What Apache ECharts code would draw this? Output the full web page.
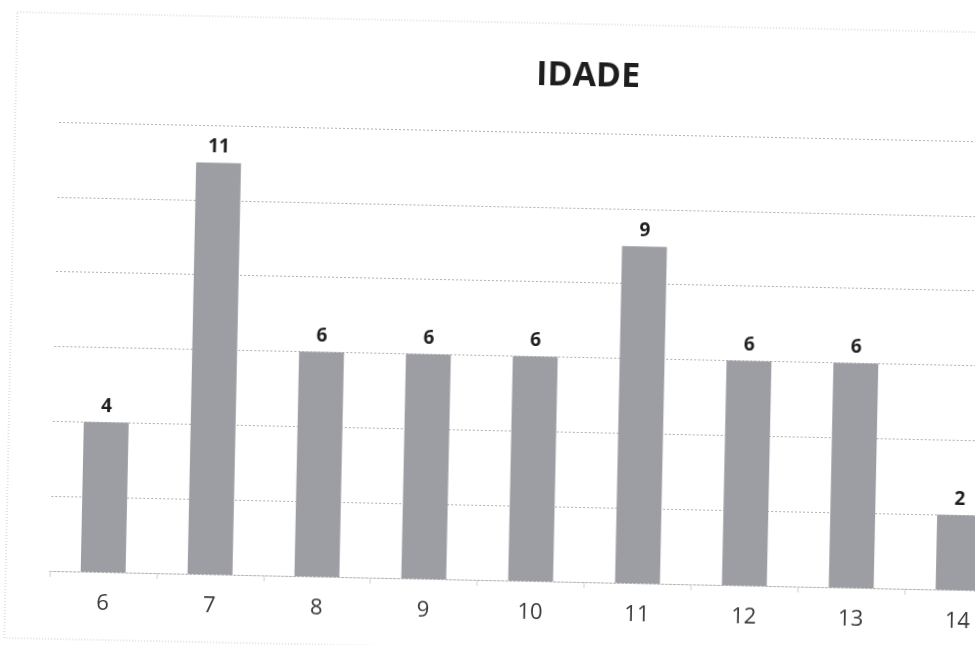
<!DOCTYPE html>
<html>
<head>
<meta charset="utf-8">
<script src="https://cdn.jsdelivr.net/npm/echarts@6/dist/echarts.min.js"></script>
<style>
  html, body { margin: 0; padding: 0; background: #ffffff; overflow: hidden; width: 975px; height: 645px; }
  #chart { position: absolute; left: -20px; top: -20px; width: 1015px; height: 685px; transform: rotate(1.2deg); transform-origin: 50% 50%; }
</style>
</head>
<body>
<div id="chart"></div>
<script>
const chartTitle = 'IDADE';
const categories = ['6', '7', '8', '9', '10', '11', '12', '13', '14'];
const counts = [4, 11, 6, 6, 6, 9, 6, 6, 2];
const yTicks = [0, 2, 4, 6, 8, 10, 12];

const chart = echarts.init(document.getElementById('chart'), null, { renderer: 'canvas' });
chart.setOption({
  backgroundColor: 'transparent',
  animation: false,
  graphic: [
    {
      type: 'rect',
      shape: { x: 31, y: 42, width: 1100, height: 626 },
      style: { fill: 'none', stroke: '#c4c4c4', lineWidth: 1, lineDash: [1, 2] },
      silent: true, z: -10
    },
    {
      type: 'text',
      x: 603, y: 94,
      style: {
        text: chartTitle, align: 'center', verticalAlign: 'middle',
        font: 'bold 34px "Open Sans", sans-serif', fill: '#1e1e1e'
      }
    }
  ],
  grid: { left: 75, width: 962, top: 151, bottom: 85, containLabel: false, outerBoundsMode: 'none' },
  xAxis: {
    type: 'category',
    data: categories,
    axisLine: { show: true, lineStyle: { color: '#a8a8a8', width: 1, type: [2, 2] } },
    axisTick: { show: true, length: 6, interval: 0, lineStyle: { color: '#d0d0d0' } },
    axisLabel: { margin: 21, fontSize: 22, fontFamily: '"Open Sans", sans-serif', color: '#3a3a3a', interval: 0 },
    splitLine: { show: false }
  },
  yAxis: {
    type: 'value',
    min: yTicks[0], max: yTicks[yTicks.length - 1], interval: yTicks[1] - yTicks[0],
    axisLine: { show: false },
    axisTick: { show: false },
    axisLabel: { show: false },
    splitLine: { show: true, lineStyle: { color: '#b0b0b0', width: 1, type: [2, 2] } }
  },
  series: [{
    type: 'bar',
    data: counts,
    barWidth: '42%',
    itemStyle: { color: '#9d9da4' },
    label: {
      show: true, position: 'top', distance: 6,
      fontSize: 19, fontWeight: 'bold', fontFamily: '"Open Sans", sans-serif', color: '#1e1e1e'
    }
  }]
});
</script>
</body>
</html>
